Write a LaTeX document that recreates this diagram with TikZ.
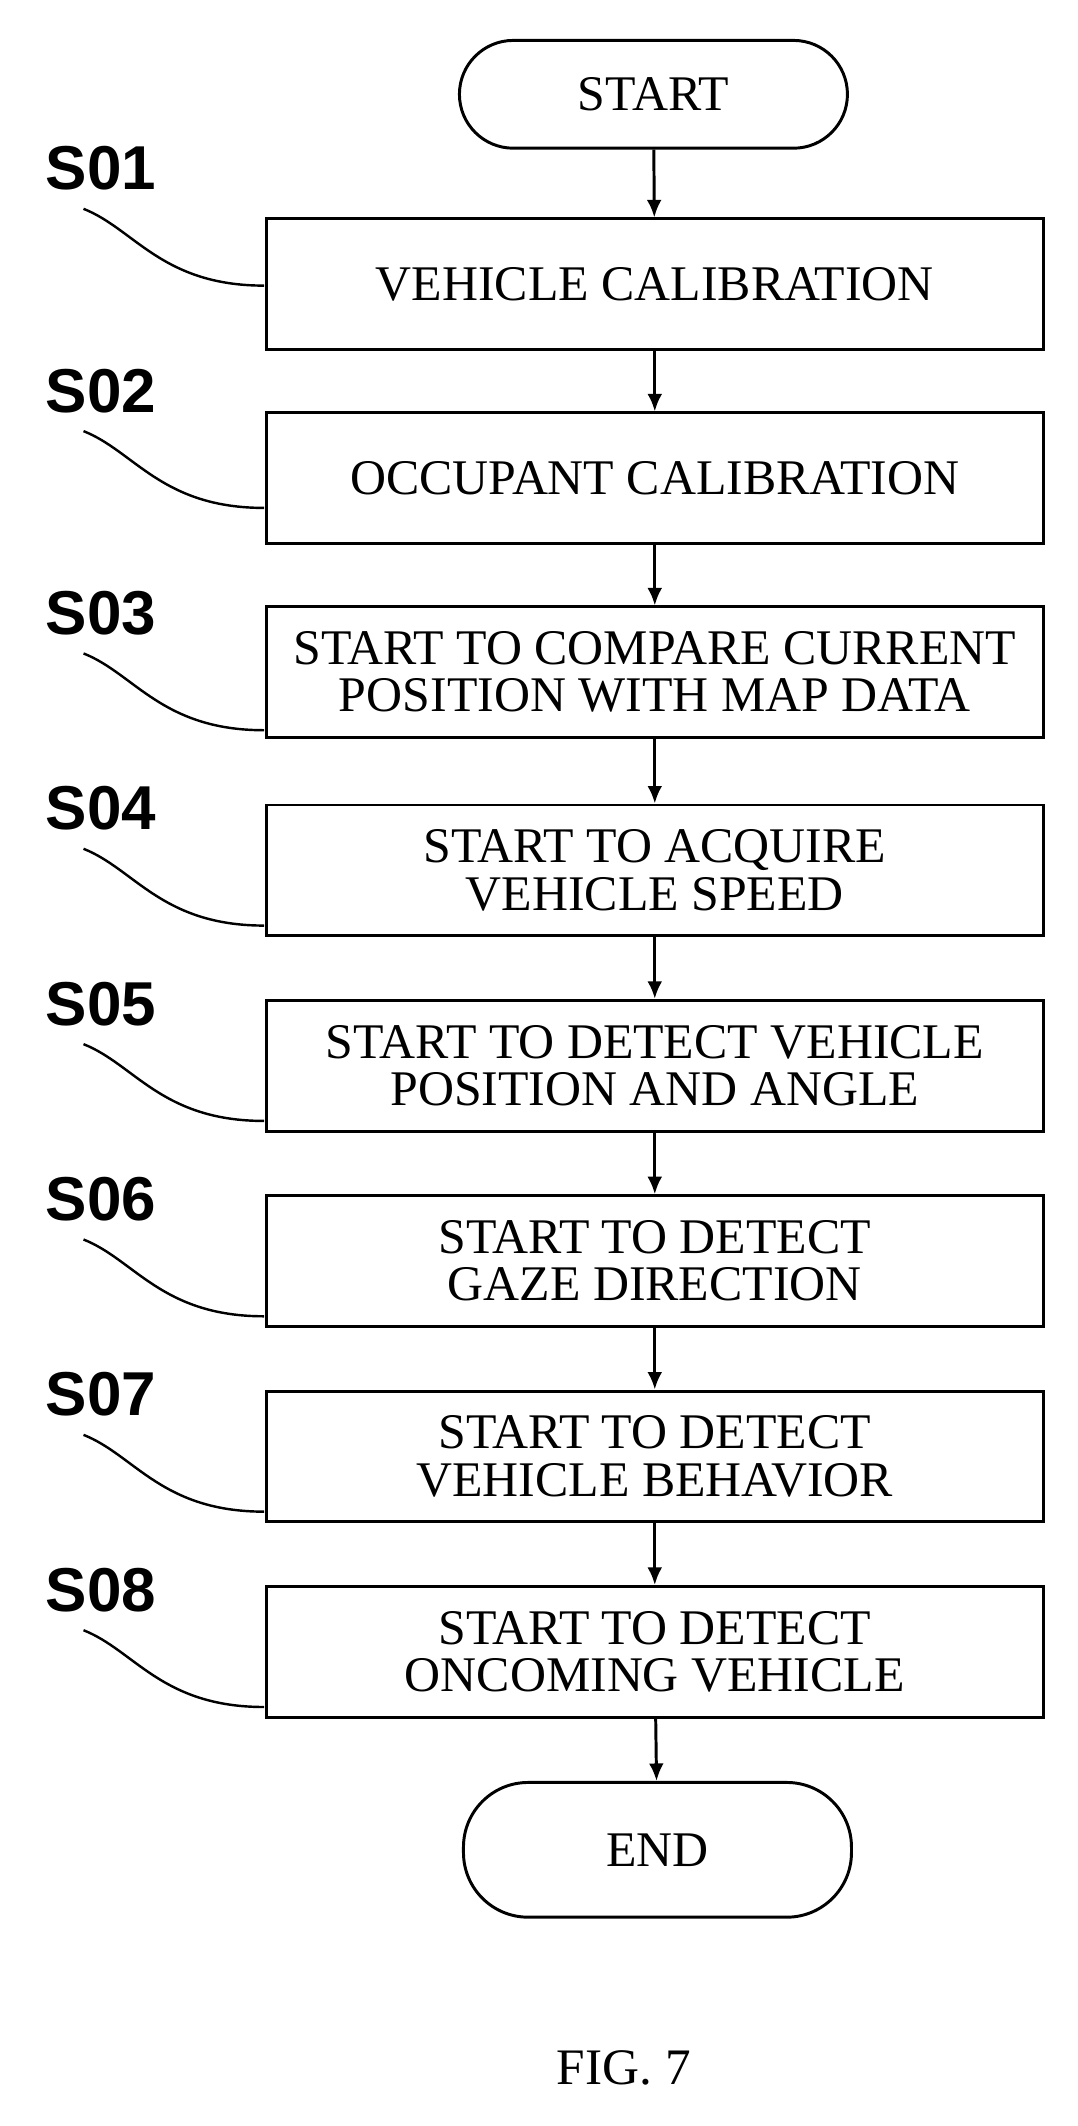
\documentclass[tikz,border=0pt]{standalone}
\usepackage{fontspec}
\setmainfont{Liberation Serif}
\setsansfont{Liberation Sans}
\usetikzlibrary{arrows.meta}
\begin{document}
\begin{tikzpicture}[x=1pt,y=-1pt,
  box/.style={draw,line width=2.2pt,minimum width=577pt,minimum height=97pt,align=center,font=\fontsize{37}{35}\selectfont,inner sep=0pt},
  term/.style={draw,line width=2.2pt,rounded corners=40pt,minimum width=288pt,minimum height=80pt,font=\fontsize{37}{35}\selectfont},
  lab/.style={font=\sffamily\bfseries\fontsize{46}{48}\selectfont},
  arr/.style={line width=2.2pt,-{Latex[length=13pt,width=11pt]}},
  lead/.style={line width=1.8pt}]
\useasboundingbox (0,0) rectangle (800,1578);
\node[term] (st) at (485,70) {START};
\node[box] (b1) at (486,211) {VEHICLE CALIBRATION};
\node[box] (b2) at (486,355) {OCCUPANT CALIBRATION};
\node[box] (b3) at (486,499) {START TO COMPARE CURRENT\\POSITION WITH MAP DATA};
\node[box] (b4) at (486,646) {START TO ACQUIRE\\VEHICLE SPEED};
\node[box] (b5) at (486,791) {START TO DETECT VEHICLE\\POSITION AND ANGLE};
\node[box] (b6) at (486,936) {START TO DETECT\\GAZE DIRECTION};
\node[box] (b7) at (486,1081) {START TO DETECT\\VEHICLE BEHAVIOR};
\node[box] (b8) at (486,1226) {START TO DETECT\\ONCOMING VEHICLE};
\node[term,minimum height=100pt,rounded corners=48pt] (en) at (488,1373) {END};
\node[font=\fontsize{38}{40}\selectfont] (fig) at (463,1535) {FIG. 7};
\draw[arr] (st) -- (b1);
\foreach \a/\b in {b1/b2,b2/b3,b3/b4,b4/b5,b5/b6,b6/b7,b7/b8,b8/en}{\draw[arr] (\a) -- (\b);}
\foreach \i/\y in {1/125,2/290,3/455,4/600,5/745,6/890,7/1035,8/1180}{
  \node[lab] (l\i) at (75,\y) {S0\i};
  \coordinate (c\i) at (196,\y+87);
  \draw[lead] (62,\y+30) .. controls (100,\y+45) and (120,\y+87) .. (c\i);
}
\end{tikzpicture}
\end{document}
